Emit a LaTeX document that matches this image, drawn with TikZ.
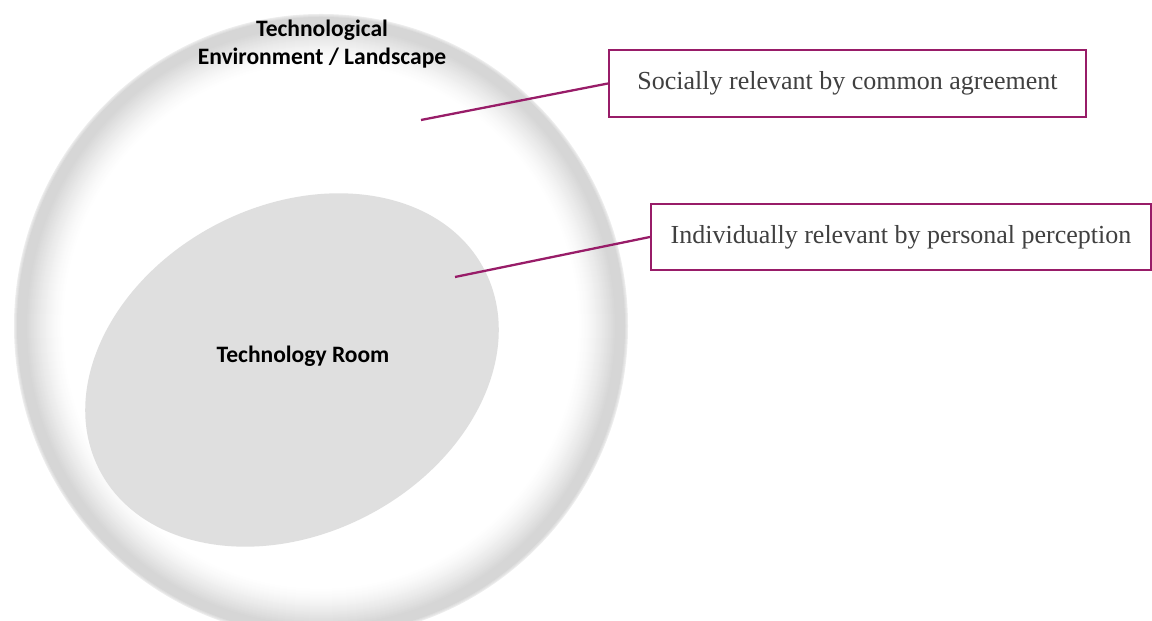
\documentclass[tikz,border=0pt]{standalone}
\usepackage{fontspec}
\setmainfont{Liberation Serif}
\newfontfamily\labelfont{Carlito}
\usetikzlibrary{shapes.geometric}
\definecolor{notepurple}{RGB}{152,28,104}
\definecolor{notetext}{RGB}{64,64,64}
\definecolor{roomgray}{RGB}{223,223,223}
\tikzset{
    notebox/.style={rectangle,draw=notepurple,line width=1.3pt,fill=white,align=center,
        text=notetext,font=\fontsize{14.8}{17}\selectfont,minimum height=1.33cm},
    noteline/.style={draw=notepurple,line width=1.3pt},
    roomshape/.style={ellipse,fill=roomgray,inner sep=0pt},
    arealabel/.style={align=center,font=\labelfont\bfseries\fontsize{13.4}{15.9}\selectfont}
}

\begin{document}
\begin{tikzpicture}[x=0.02cm,y=0.02cm]
        \useasboundingbox (0,0) rectangle (1152,621);
        \clip (0,0) rectangle (1152,621);
        % soft grey rim of the landscape, filled from the outside in
        \foreach \k in {0,...,50}{
            \pgfmathsetmacro\g{\k<3 ? 7+3*\k : (\k<12 ? 16 : 16*((50-\k)/38)^1.4)}
            \fill[black!\g] (321,295) ellipse [x radius=307-\k, y radius=312-\k];
        }
        \node[roomshape,minimum width=8.68cm,minimum height=6.56cm,rotate=27.6] (room) at (292,251) {};
        \node[arealabel] (envlabel) at (322,577) {Technological\\Environment / Landscape};
        \node[arealabel] (roomlabel) at (303,265) {Technology Room};
        \node[notebox,minimum width=9.54cm] (social) at (847.5,537.5) {Socially relevant by common agreement};
        \node[notebox,minimum width=10cm] (personal) at (901,384) {Individually relevant by personal perception};
        \coordinate (envpoint) at (421,501);
        \coordinate (roompoint) at (455,344);
        \draw[noteline] (envpoint) -- (social.west);
        \draw[noteline] (roompoint) -- (personal.west);
    \end{tikzpicture}
\end{document}
